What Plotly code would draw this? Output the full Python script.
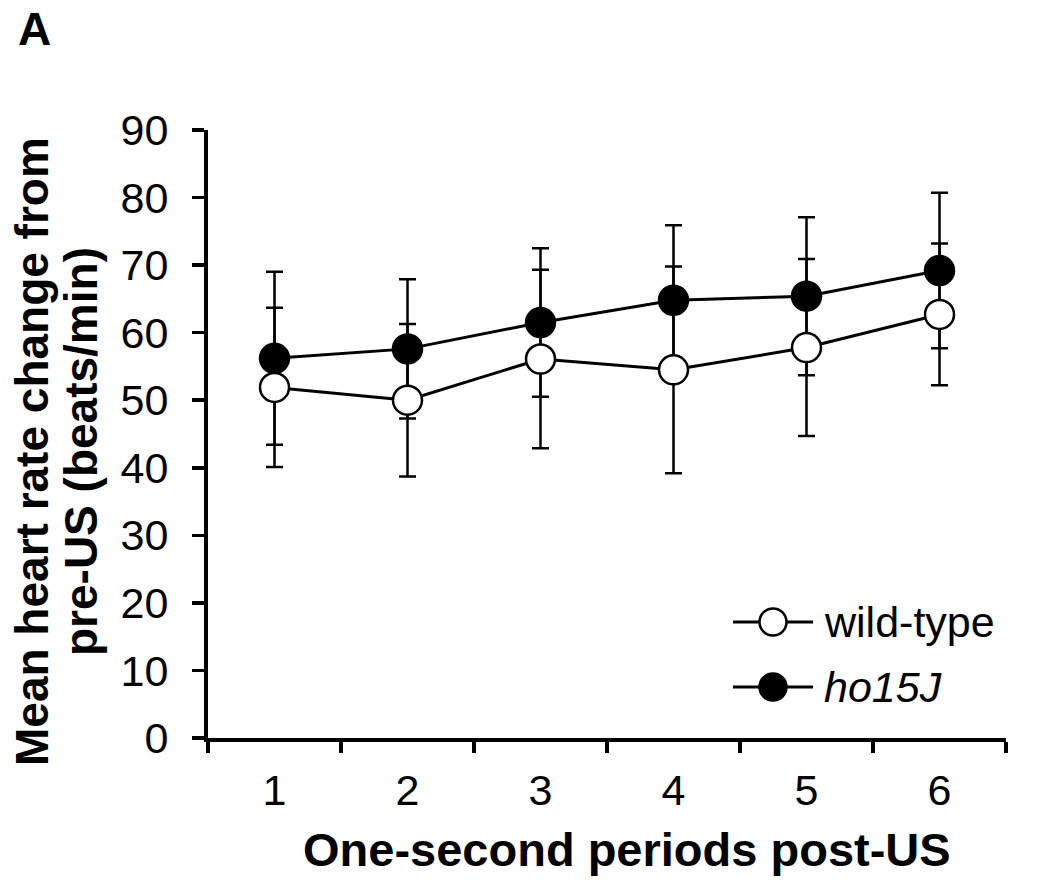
import plotly.graph_objects as go

# ---- data ----
periods = ["1", "2", "3", "4", "5", "6"]
wt_mean = [51.9, 50.0, 56.1, 54.5, 57.8, 62.7]
wt_err = [11.8, 11.3, 13.2, 15.3, 13.1, 10.5]
ho_mean = [56.2, 57.6, 61.5, 64.8, 65.4, 69.2]
ho_err = [12.8, 10.3, 11.0, 11.1, 11.7, 11.5]
y_ticks = [0, 10, 20, 30, 40, 50, 60, 70, 80, 90]
series_names = ["wild-type", "<i>ho15J</i>"]

FONT = "Liberation Sans, Arial, sans-serif"
BLACK = "#000000"

# page is 1037x880 (body margin removed below)
W, H = 1037, 880
# plot area in page pixels: x 208..1006, y 130..738
PX0, PX1, PY0, PY1 = 208, 1006, 130, 738
L, T = PX0, PY0
R, B = W - PX1, H - PY1
PW, PH = PX1 - PX0, PY1 - PY0


def px_x(p):
    return (p - PX0) / PW


def px_y(p):
    return (PY1 - p) / PH


fig = go.Figure()

err_style = dict(type="data", thickness=2.5, width=8.5, color=BLACK, visible=True)

# lines + error bars (ho15J first, then wild-type so wt markers cover ho15J bars)
fig.add_trace(go.Scatter(x=periods, y=ho_mean, mode="lines",
                         line=dict(color=BLACK, width=3),
                         error_y=dict(array=ho_err, **err_style),
                         showlegend=False, hoverinfo="skip"))
fig.add_trace(go.Scatter(x=periods, y=wt_mean, mode="lines",
                         line=dict(color=BLACK, width=3),
                         error_y=dict(array=wt_err, **err_style),
                         showlegend=False, hoverinfo="skip"))
# markers
fig.add_trace(go.Scatter(x=periods, y=wt_mean, mode="markers", name="wild-type",
                         marker=dict(symbol="circle", size=29, color="white",
                                     line=dict(color=BLACK, width=2.5)),
                         showlegend=False))
fig.add_trace(go.Scatter(x=periods, y=ho_mean, mode="markers", name="ho15J",
                         marker=dict(symbol="circle", size=29, color=BLACK,
                                     line=dict(color=BLACK, width=2.5)),
                         showlegend=False))

# ---- custom legend keys on an overlay axis (0..1 over the plot area) ----
key_x0, key_x1 = px_x(733), px_x(813)
key_xm = (key_x0 + key_x1) / 2
key_ys = [px_y(622), px_y(687)]
key_fill = ["white", BLACK]
for ky, fill in zip(key_ys, key_fill):
    fig.add_trace(go.Scatter(x=[key_x0, key_x1], y=[ky, ky], mode="lines",
                             line=dict(color=BLACK, width=3),
                             xaxis="x2", yaxis="y2", showlegend=False, hoverinfo="skip"))
    fig.add_trace(go.Scatter(x=[key_xm], y=[ky], mode="markers",
                             marker=dict(symbol="circle", size=27, color=fill,
                                         line=dict(color=BLACK, width=2.5)),
                             xaxis="x2", yaxis="y2", showlegend=False, hoverinfo="skip"))

annotations = []
for ky, name in zip(key_ys, series_names):
    annotations.append(dict(x=px_x(822), y=ky, xref="paper", yref="paper",
                            text=name, showarrow=False, xanchor="left", yanchor="middle",
                            font=dict(family=FONT, size=43, color=BLACK)))

# axis titles
annotations.append(dict(x=px_x(627), y=px_y(849), xref="paper", yref="paper",
                        text="<b>One-second periods post-US</b>", showarrow=False,
                        xanchor="center", yanchor="middle",
                        font=dict(family=FONT, size=47, color=BLACK)))
annotations.append(dict(x=px_x(32), y=px_y(452), xref="paper", yref="paper",
                        text="<b>Mean heart rate change from</b>", showarrow=False,
                        textangle=-90, xanchor="center", yanchor="middle",
                        font=dict(family=FONT, size=46, color=BLACK)))
annotations.append(dict(x=px_x(81), y=px_y(452), xref="paper", yref="paper",
                        text="<b>pre-US (beats/min)</b>", showarrow=False,
                        textangle=-90, xanchor="center", yanchor="middle",
                        font=dict(family=FONT, size=46, color=BLACK)))
# panel letter
annotations.append(dict(x=px_x(16), y=px_y(57), xref="paper", yref="paper",
                        text="<b>A</b>", showarrow=False,
                        xanchor="left", yanchor="bottom",
                        font=dict(family=FONT, size=46, color=BLACK)))

fig.update_layout(
    width=W, height=H,
    margin=dict(l=L, r=R, t=T, b=B, autoexpand=False),
    paper_bgcolor="white", plot_bgcolor="white",
    font=dict(family=FONT, color=BLACK),
    showlegend=False,
    annotations=annotations,
    xaxis=dict(type="category", range=[-0.5, 5.5], tickson="boundaries",
               showline=True, linecolor=BLACK, linewidth=4,
               ticks="outside", ticklen=11, tickwidth=3.5, tickcolor=BLACK,
               showgrid=False, zeroline=False,
               tickfont=dict(family=FONT, size=43, color=BLACK),
               ticklabelstandoff=11),
    yaxis=dict(range=[0, 90], tickvals=y_ticks, showline=True, linecolor=BLACK,
               linewidth=4, ticks="outside", ticklen=12, tickwidth=3.5,
               tickcolor=BLACK, showgrid=False, zeroline=False,
               tickfont=dict(family=FONT, size=43, color=BLACK),
               ticklabelstandoff=15),
    xaxis2=dict(overlaying="x", range=[0, 1], visible=False, fixedrange=True),
    yaxis2=dict(overlaying="y", range=[0, 1], visible=False, fixedrange=True),
)

fig.write_html(
    "out.html",
    config={"displayModeBar": False, "staticPlot": True},
    post_script="document.body.style.margin='0px';document.body.style.overflow='hidden';",
)
